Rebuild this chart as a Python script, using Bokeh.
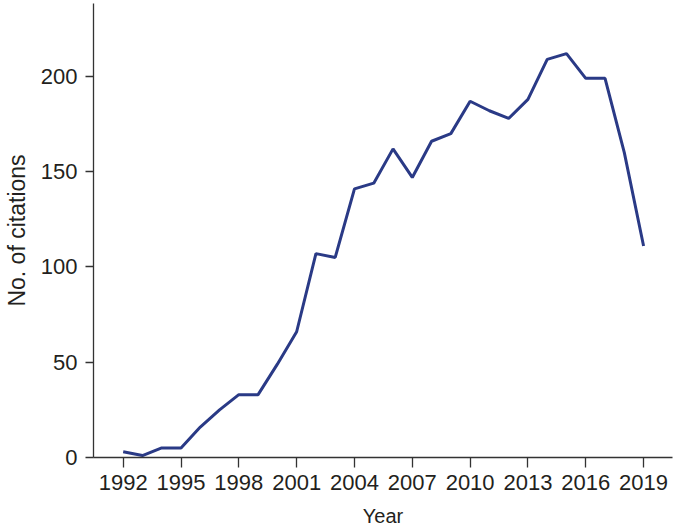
from bokeh.plotting import figure
from bokeh.models import FixedTicker, Range1d
from bokeh.embed import file_html
from bokeh.resources import INLINE

years = list(range(1992, 2020))
citations = [3, 1, 5, 5, 16, 25, 33, 33, 49, 66, 107, 105, 141, 144, 162, 147,
             166, 170, 187, 182, 178, 188, 209, 212, 199, 199, 160, 111]
x_ticks = [1992, 1995, 1998, 2001, 2004, 2007, 2010, 2013, 2016, 2019]
y_ticks = [0, 50, 100, 150, 200]

p = figure(width=674, height=530, output_backend="svg", toolbar_location=None,
           x_range=Range1d(1990.46, 2020.5), y_range=Range1d(0, 238.3),
           min_border_left=93, min_border_right=2, min_border_top=3, min_border_bottom=73)
p.outline_line_color = None
p.xgrid.grid_line_color = None
p.ygrid.grid_line_color = None
p.background_fill_color = "white"
p.border_fill_color = "white"

p.line(years, citations, line_color="#2a3a86", line_width=3)

font = "Liberation Sans"
txt = "#231f20"
for ax in (p.xaxis[0], p.yaxis[0]):
    ax.axis_line_color = "#333333"
    ax.axis_line_width = 1.3
    ax.major_tick_line_color = "#333333"
    ax.major_tick_line_width = 1.3
    ax.major_tick_in = 0
    ax.minor_tick_line_color = None
    ax.major_label_text_font = font
    ax.major_label_text_font_size = "22px"
    ax.major_label_text_color = txt
    ax.axis_label_text_font = font
    ax.axis_label_text_font_style = "normal"
    ax.axis_label_text_color = txt

p.xaxis[0].axis_label_text_font_size = "20px"
p.yaxis[0].axis_label_text_font_size = "23px"
p.xaxis[0].ticker = FixedTicker(ticks=x_ticks)
p.yaxis[0].ticker = FixedTicker(ticks=y_ticks)
p.xaxis[0].major_tick_out = 10
p.yaxis[0].major_tick_out = 8
p.xaxis[0].major_label_standoff = 7
p.yaxis[0].major_label_standoff = 8
p.xaxis[0].axis_label = "Year"
p.yaxis[0].axis_label = "No. of citations"
p.xaxis[0].axis_label_standoff = 12
p.yaxis[0].axis_label_standoff = 8

open("out.html", "w").write(file_html(p, INLINE))
